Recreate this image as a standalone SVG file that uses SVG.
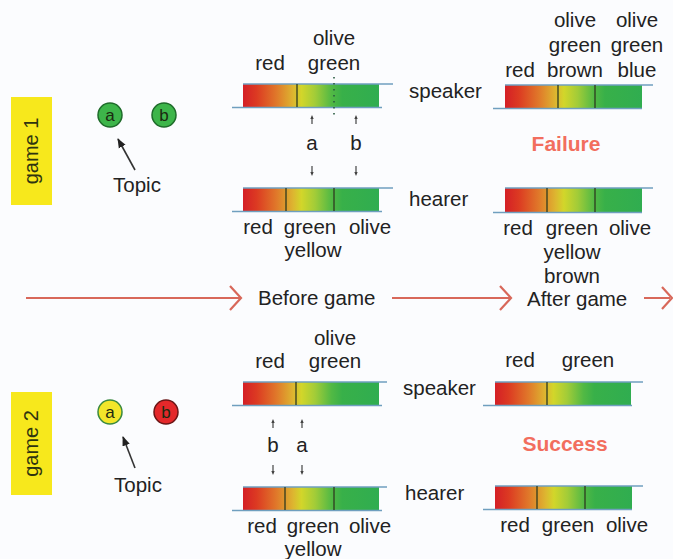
<svg xmlns="http://www.w3.org/2000/svg" width="673" height="559" viewBox="0 0 673 559">
<style>
text{font-family:"Liberation Sans",Arial,sans-serif;font-size:20.5px;fill:#222}
.m{text-anchor:middle}
.ln{stroke:#6f9fbf;stroke-width:1.6}
.dv{stroke:#2e3a20;stroke-width:1.3}
.bar{fill:url(#spec)}
.flow{stroke:#d8685a;stroke-width:2.2;fill:none}
.tiny{stroke:#444;stroke-width:1.2;marker-end:url(#th)}
.topic{stroke:#333;stroke-width:1.6;marker-end:url(#ah)}
.res{font-weight:bold;font-size:21px;fill:#f26e5e;text-anchor:middle}
.tag{fill:#f7e81c}
.tagt{fill:#2e3410;font-size:20px;text-anchor:middle}
.ct{font-size:17px;fill:#1b2a10;text-anchor:middle}
</style>
<defs>
<linearGradient id="spec" x1="0" y1="0" x2="1" y2="0">
<stop offset="0" stop-color="#d41f26"/>
<stop offset="0.1" stop-color="#dc3a22"/>
<stop offset="0.25" stop-color="#e07a2a"/>
<stop offset="0.37" stop-color="#ddb630"/>
<stop offset="0.43" stop-color="#d2d62a"/>
<stop offset="0.53" stop-color="#a2cc38"/>
<stop offset="0.65" stop-color="#52b944"/>
<stop offset="0.73" stop-color="#38b049"/>
<stop offset="1" stop-color="#30ad50"/>
</linearGradient>
<marker id="th" viewBox="0 0 6 6" refX="3" refY="3" markerWidth="3.4" markerHeight="3.4" orient="auto">
<path d="M0,0.5 L6,3 L0,5.5 z" fill="#444"/>
</marker>
<marker id="ah" viewBox="0 0 10 10" refX="9" refY="5" markerWidth="6" markerHeight="6" orient="auto">
<path d="M0,1 L10,5 L0,9 z" fill="#222"/>
</marker>
</defs>
<rect width="673" height="559" fill="#fbfcfe"/>

<g id="game1-label"><rect class="tag" x="11" y="97" width="41" height="108"/><text class="tagt" transform="translate(38,151) rotate(-90)">game 1</text></g>
<g id="game1-objects">
<circle cx="110" cy="115" r="12" fill="#3db54a" stroke="#1e6b2a" stroke-width="1.5"/><text class="ct" x="110" y="121">a</text>
<circle cx="164" cy="115" r="12" fill="#3db54a" stroke="#1e6b2a" stroke-width="1.5"/><text class="ct" x="164" y="121">b</text>
<text class="m" x="137" y="192">Topic</text>
</g>
<g id="game1-before-speaker">
<rect class="bar" x="243" y="84" width="136" height="23"/>
<line class="ln" x1="243" y1="84" x2="393" y2="84"/><line class="ln" x1="232" y1="107.5" x2="382" y2="107.5"/>
<line class="dv" x1="297" y1="84" x2="297" y2="107"/>
<line x1="334" y1="77" x2="334" y2="118" stroke="#2a5a40" stroke-width="1.6" stroke-dasharray="1.6,4.4"/>
<text class="m" x="334" y="45">olive</text><text class="m" x="334" y="70">green</text><text class="m" x="270" y="70">red</text>
<text x="409" y="98">speaker</text>
</g>
<g id="game1-before-hearer">
<rect class="bar" x="243" y="188" width="136" height="23"/>
<line class="ln" x1="243" y1="188" x2="393" y2="188"/><line class="ln" x1="232" y1="211.5" x2="382" y2="211.5"/>
<line class="dv" x1="286" y1="188" x2="286" y2="211"/><line class="dv" x1="334" y1="188" x2="334" y2="211"/>
<text class="m" x="258" y="234">red</text><text class="m" x="310" y="234">green</text><text class="m" x="370" y="234">olive</text><text class="m" x="313" y="257">yellow</text>
<text x="409" y="206">hearer</text>
</g>
<g id="game1-pointing">
<text class="m" x="312" y="150">a</text><text class="m" x="356" y="150">b</text>
</g>
<g id="game1-after-speaker">
<rect class="bar" x="505" y="85" width="137" height="23"/>
<line class="ln" x1="505" y1="85" x2="653" y2="85"/><line class="ln" x1="493" y1="108.5" x2="642" y2="108.5"/>
<line class="dv" x1="558" y1="85" x2="558" y2="108"/><line class="dv" x1="595" y1="85" x2="595" y2="108"/>
<text class="m" x="575" y="27">olive</text><text class="m" x="637" y="27">olive</text>
<text class="m" x="575" y="52">green</text><text class="m" x="637" y="52">green</text>
<text class="m" x="520" y="77">red</text><text class="m" x="575" y="77">brown</text><text class="m" x="637" y="77">blue</text>
</g>
<g id="game1-result"><text class="res" x="566" y="151">Failure</text></g>
<g id="game1-after-hearer">
<rect class="bar" x="505" y="188" width="137" height="24"/>
<line class="ln" x1="505" y1="188" x2="653" y2="188"/><line class="ln" x1="493" y1="212.5" x2="642" y2="212.5"/>
<line class="dv" x1="547" y1="188" x2="547" y2="212"/><line class="dv" x1="595" y1="188" x2="595" y2="212"/>
<text class="m" x="518" y="235">red</text><text class="m" x="572" y="235">green</text><text class="m" x="630" y="235">olive</text>
<text class="m" x="572" y="259">yellow</text><text class="m" x="572" y="283">brown</text>
</g>

<g id="timeline-text">
<text x="258" y="305">Before game</text>
<text x="527" y="306">After game</text>
</g>

<g id="game2-label"><rect class="tag" x="11" y="392" width="41" height="103"/><text class="tagt" transform="translate(38,443.5) rotate(-90)">game 2</text></g>
<g id="game2-objects">
<circle cx="110" cy="412" r="12" fill="#f2e62a" stroke="#3a8a40" stroke-width="1.5"/><text class="ct" x="110" y="418">a</text>
<circle cx="166" cy="412" r="12" fill="#e4282a" stroke="#6a1616" stroke-width="1.5"/><text class="ct" x="166" y="418">b</text>
<text class="m" x="138" y="492">Topic</text>
</g>
<g id="game2-before-speaker">
<rect class="bar" x="243" y="382" width="136" height="23"/>
<line class="ln" x1="243" y1="382" x2="387" y2="382"/><line class="ln" x1="232" y1="405.5" x2="382" y2="405.5"/>
<line class="dv" x1="296" y1="382" x2="296" y2="405"/>
<text class="m" x="270" y="368">red</text><text class="m" x="335" y="345">olive</text><text class="m" x="335" y="368">green</text>
<text x="403" y="395">speaker</text>
</g>
<g id="game2-before-hearer">
<rect class="bar" x="243" y="487" width="136" height="23"/>
<line class="ln" x1="243" y1="487" x2="387" y2="487"/><line class="ln" x1="232" y1="510.5" x2="382" y2="510.5"/>
<line class="dv" x1="285" y1="487" x2="285" y2="510"/><line class="dv" x1="334" y1="487" x2="334" y2="510"/>
<text class="m" x="262" y="533">red</text><text class="m" x="313" y="533">green</text><text class="m" x="370" y="533">olive</text><text class="m" x="313" y="556">yellow</text>
<text x="405" y="500">hearer</text>
</g>
<g id="game2-pointing">
<text class="m" x="273" y="452">b</text><text class="m" x="302" y="452">a</text>
</g>
<g id="game2-after-speaker">
<rect class="bar" x="495" y="382" width="136" height="23"/>
<line class="ln" x1="495" y1="382" x2="643" y2="382"/><line class="ln" x1="483" y1="405.5" x2="632" y2="405.5"/>
<line class="dv" x1="547" y1="382" x2="547" y2="405"/>
<text class="m" x="520" y="367">red</text><text class="m" x="588" y="367">green</text>
</g>
<g id="game2-result"><text class="res" x="565" y="451">Success</text></g>
<g id="game2-after-hearer">
<rect class="bar" x="495" y="486" width="137" height="23"/>
<line class="ln" x1="495" y1="486" x2="643" y2="486"/><line class="ln" x1="483" y1="509.5" x2="632" y2="509.5"/>
<line class="dv" x1="537" y1="486" x2="537" y2="509"/><line class="dv" x1="585" y1="486" x2="585" y2="509"/>
<text class="m" x="515" y="532">red</text><text class="m" x="568" y="532">green</text><text class="m" x="627" y="532">olive</text>
</g>

<g id="connectors">
<line class="topic" x1="135" y1="170" x2="118" y2="139"/>
<line class="topic" x1="135" y1="468" x2="123" y2="437"/>
<line class="tiny" x1="312" y1="124" x2="312" y2="117"/><line class="tiny" x1="356" y1="124" x2="356" y2="117"/>
<line class="tiny" x1="312" y1="166" x2="312" y2="174"/><line class="tiny" x1="356" y1="166" x2="356" y2="174"/>
<line class="tiny" x1="273" y1="428" x2="273" y2="421"/><line class="tiny" x1="302" y1="428" x2="302" y2="421"/>
<line class="tiny" x1="273" y1="465" x2="273" y2="473"/><line class="tiny" x1="302" y1="465" x2="302" y2="473"/>
<path class="flow" d="M26,298 H240 M230,286 L241,298 L230,310"/>
<path class="flow" d="M392,298 H510 M500,286 L511,298 L500,310"/>
<path class="flow" d="M644,298 H670 M662,287 L672,298 L662,309"/>
</g>
</svg>
